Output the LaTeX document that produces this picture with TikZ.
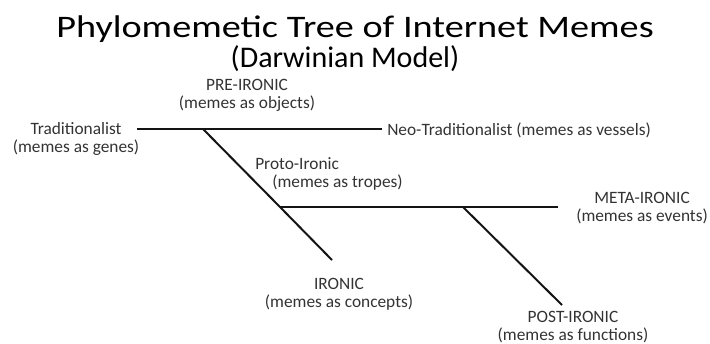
\documentclass[tikz,border=0pt]{standalone}
\usepackage{fontspec}
\setmainfont{Carlito}
\newfontfamily\widefont{Carlito}[FakeStretch=1.22]
\definecolor{branchcol}{gray}{0.08}
\definecolor{labcol}{gray}{0.2}
\tikzset{
  ttl/.style={font=\widefont\fontsize{23.5}{26}\selectfont,inner sep=0pt},
  subttl/.style={font=\fontsize{22.5}{25}\selectfont,inner sep=0pt},
  lab/.style={font=\fontsize{13}{13.7}\selectfont,text=labcol,align=center,inner sep=0pt},
  branch/.style={draw=branchcol,line width=1.5pt},
}

\begin{document}
\begin{tikzpicture}[x=0.75pt,y=0.75pt]
  \useasboundingbox (0,0) rectangle (710,-343);
  \node[ttl,anchor=base] (title) at (355,-37) {Phylomemetic Tree of Internet Memes};
  \node[subttl,anchor=base] (subtitle) at (345,-67) {(Darwinian Model)};
  \node[lab] (preironic) at (247,-95) {PRE-IRONIC\\(memes as objects)};
  \node[lab] (trad) at (76,-139) {Traditionalist\\(memes as genes)};
  \node[lab,anchor=west] (neotrad) at (387,-130) {Neo-Traditionalist (memes as vessels)};
  \node[lab,anchor=west] (proto) at (255,-164) {Proto-Ironic};
  \node[lab,anchor=west] (protosub) at (272,-183) {(memes as tropes)};
  \node[lab] (metaironic) at (642,-208) {META-IRONIC\\(memes as events)};
  \node[lab] (ironic) at (339,-294) {IRONIC\\(memes as concepts)};
  \node[lab] (postironic) at (573,-327) {POST-IRONIC\\(memes as functions)};
  \coordinate (root) at (137,-129);
  \coordinate (neoend) at (382,-129);
  \coordinate (split) at (203,-129);
  \coordinate (protonode) at (280,-207);
  \coordinate (ironicend) at (332,-260);
  \coordinate (metaend) at (558,-207);
  \coordinate (postsplit) at (463,-207);
  \coordinate (postend) at (562,-305);
  \draw[branch] (root) -- (neoend);
  \draw[branch] (split) -- (protonode) -- (ironicend);
  \draw[branch] (protonode) -- (metaend);
  \draw[branch] (postsplit) -- (postend);
\end{tikzpicture}
\end{document}
